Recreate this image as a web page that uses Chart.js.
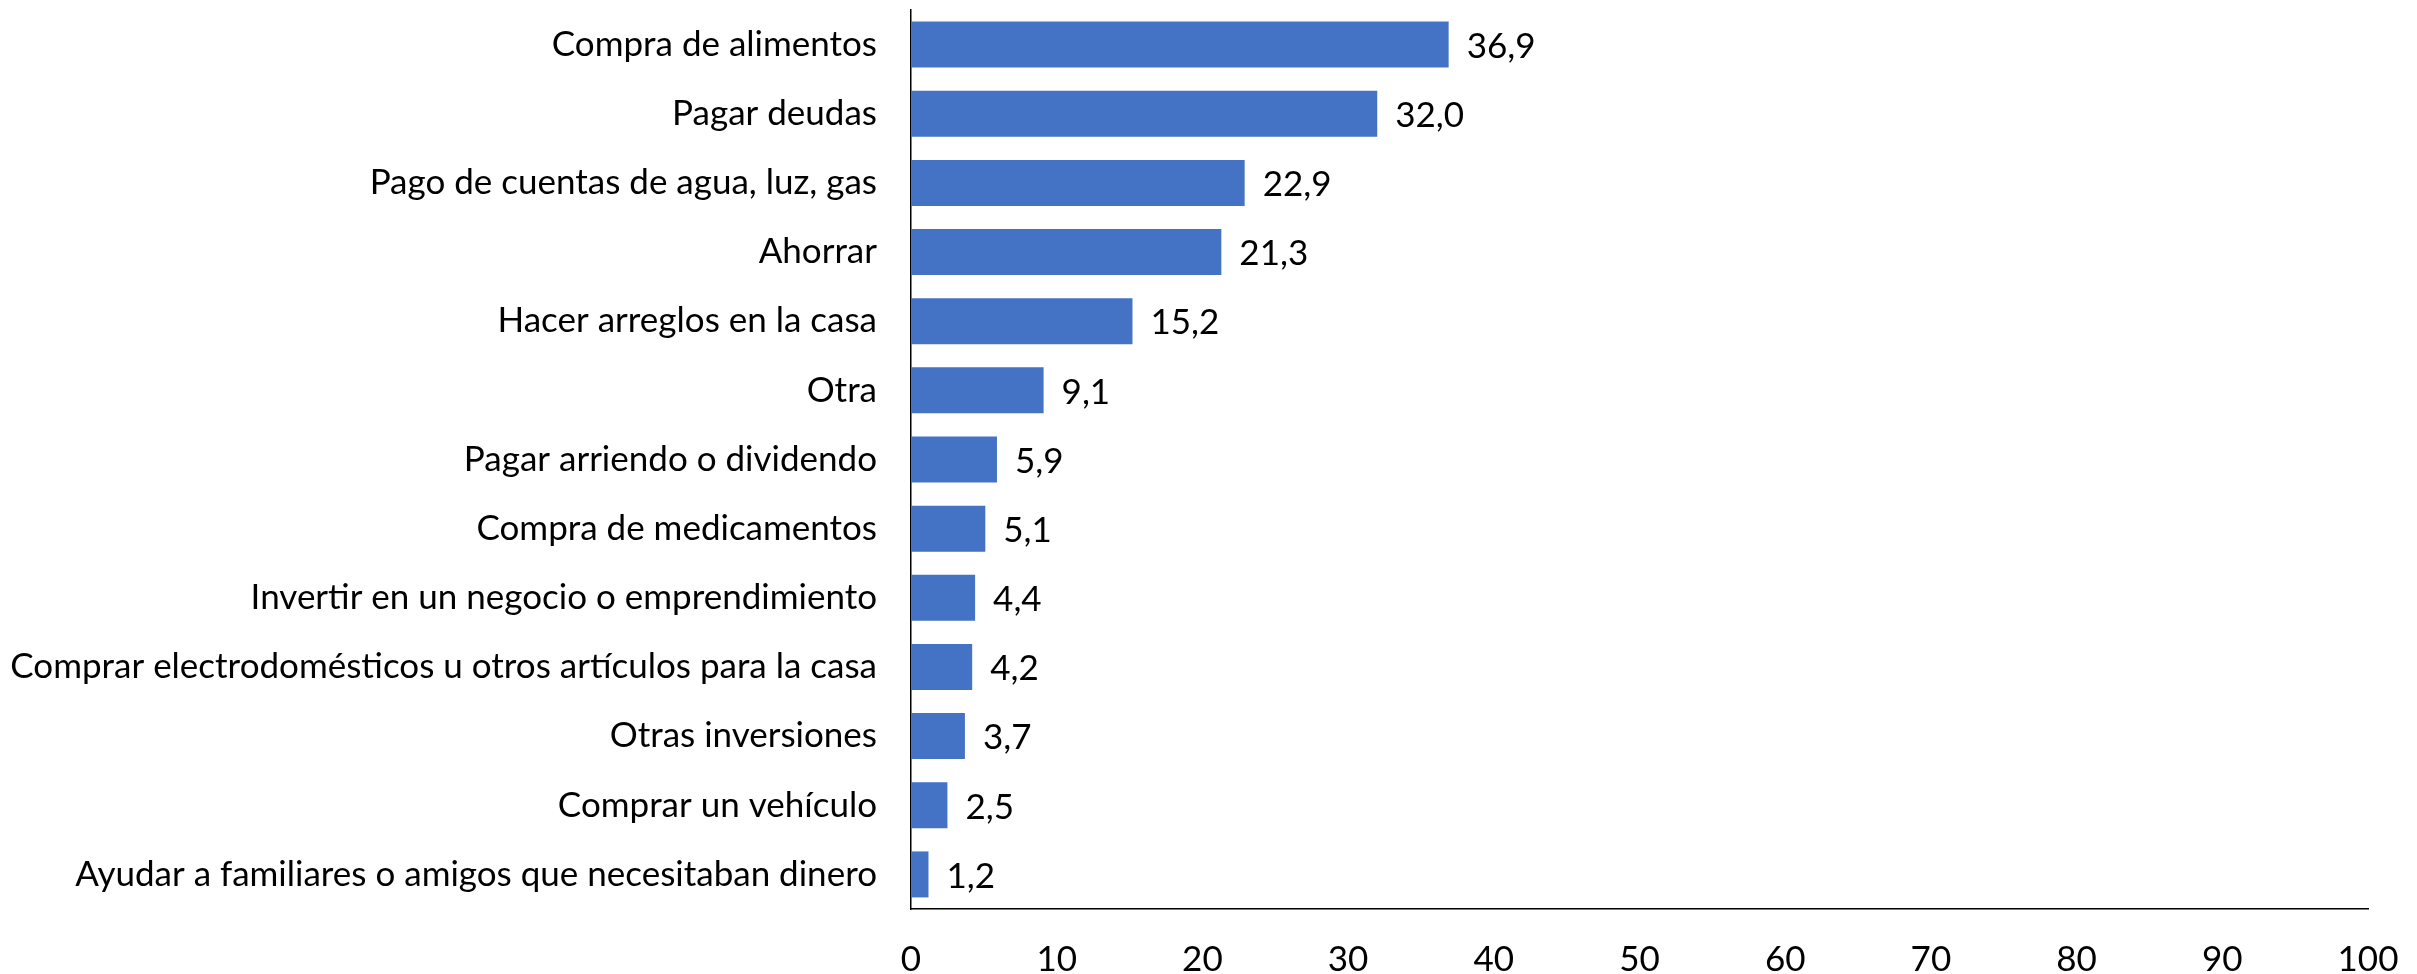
<!DOCTYPE html>
<html>
<head>
<meta charset="utf-8">
<script src="https://cdn.jsdelivr.net/npm/chart.js@4/dist/chart.umd.min.js"></script>
<style>
  html, body { margin: 0; padding: 0; background: #fff; }
  #wrap { width: 2417px; height: 974px; }
</style>
</head>
<body>
<div id="wrap"><canvas id="usosChart"></canvas></div>
<script>
// Categories top to bottom, values in percent
const categories = [
    'Compra de alimentos',
    'Pagar deudas',
    'Pago de cuentas de agua, luz, gas',
    'Ahorrar',
    'Hacer arreglos en la casa',
    'Otra',
    'Pagar arriendo o dividendo',
    'Compra de medicamentos',
    'Invertir en un negocio o emprendimiento',
    'Comprar electrodomésticos u otros artículos para la casa',
    'Otras inversiones',
    'Comprar un vehículo',
    'Ayudar a familiares o amigos que necesitaban dinero'
];
const values = [36.9, 32.0, 22.9, 21.3, 15.2, 9.1, 5.9, 5.1, 4.4, 4.2, 3.7, 2.5, 1.2];
const xTicks = [0, 10, 20, 30, 40, 50, 60, 70, 80, 90, 100];

const FONT = "Lato, 'Open Sans', 'Liberation Sans', sans-serif";

// value labels next to bar ends, decimal comma
const valueLabels = {
    id: 'valueLabels',
    afterDatasetsDraw(chart) {
        const ctx = chart.ctx;
        const meta = chart.getDatasetMeta(0);
        ctx.save();
        ctx.font = '35px ' + FONT;
        ctx.fillStyle = '#000';
        ctx.textAlign = 'left';
        ctx.textBaseline = 'middle';
        meta.data.forEach(function (bar, i) {
            const txt = values[i].toFixed(1).replace('.', ',');
            ctx.fillText(txt, bar.x + 18, bar.y + 2);
        });
        ctx.restore();
    }
};

document.addEventListener('DOMContentLoaded', function () {
    const ctx = document.getElementById('usosChart').getContext('2d');
    new Chart(ctx, {
        type: 'bar',
        data: {
            labels: categories,
            datasets: [{
                data: values,
                backgroundColor: '#4472C4',
                borderWidth: 0,
                categoryPercentage: 1,
                barPercentage: 0.665
            }]
        },
        options: {
            indexAxis: 'y',
            responsive: true,
            maintainAspectRatio: false,
            animation: false,
            layout: { padding: { left: 10, right: 49, top: 10, bottom: 0 } },
            scales: {
                x: {
                    min: 0,
                    max: 100,
                    afterBuildTicks: function (scale) {
                        scale.ticks = xTicks.map(function (v) { return { value: v }; });
                    },
                    afterFit: function (scale) {
                        scale.height = 65;
                        scale.paddingLeft = 0;
                        scale.paddingRight = 0;
                    },
                    grid: { display: false, drawTicks: false },
                    border: { display: true, color: '#000', width: 1.5 },
                    ticks: {
                        color: '#000',
                        padding: 30,
                        font: { family: FONT, size: 35 }
                    }
                },
                y: {
                    afterFit: function (scale) {
                        scale.width = 901;
                        scale.paddingTop = 0;
                        scale.paddingBottom = 0;
                    },
                    grid: { display: false, drawTicks: false },
                    border: { display: true, color: '#000', width: 1.5 },
                    ticks: {
                        color: '#000',
                        padding: 34,
                        font: { family: FONT, size: 35 }
                    }
                }
            },
            plugins: {
                legend: { display: false },
                tooltip: { enabled: false }
            }
        },
        plugins: [valueLabels]
    });
});
</script>
</body>
</html>
